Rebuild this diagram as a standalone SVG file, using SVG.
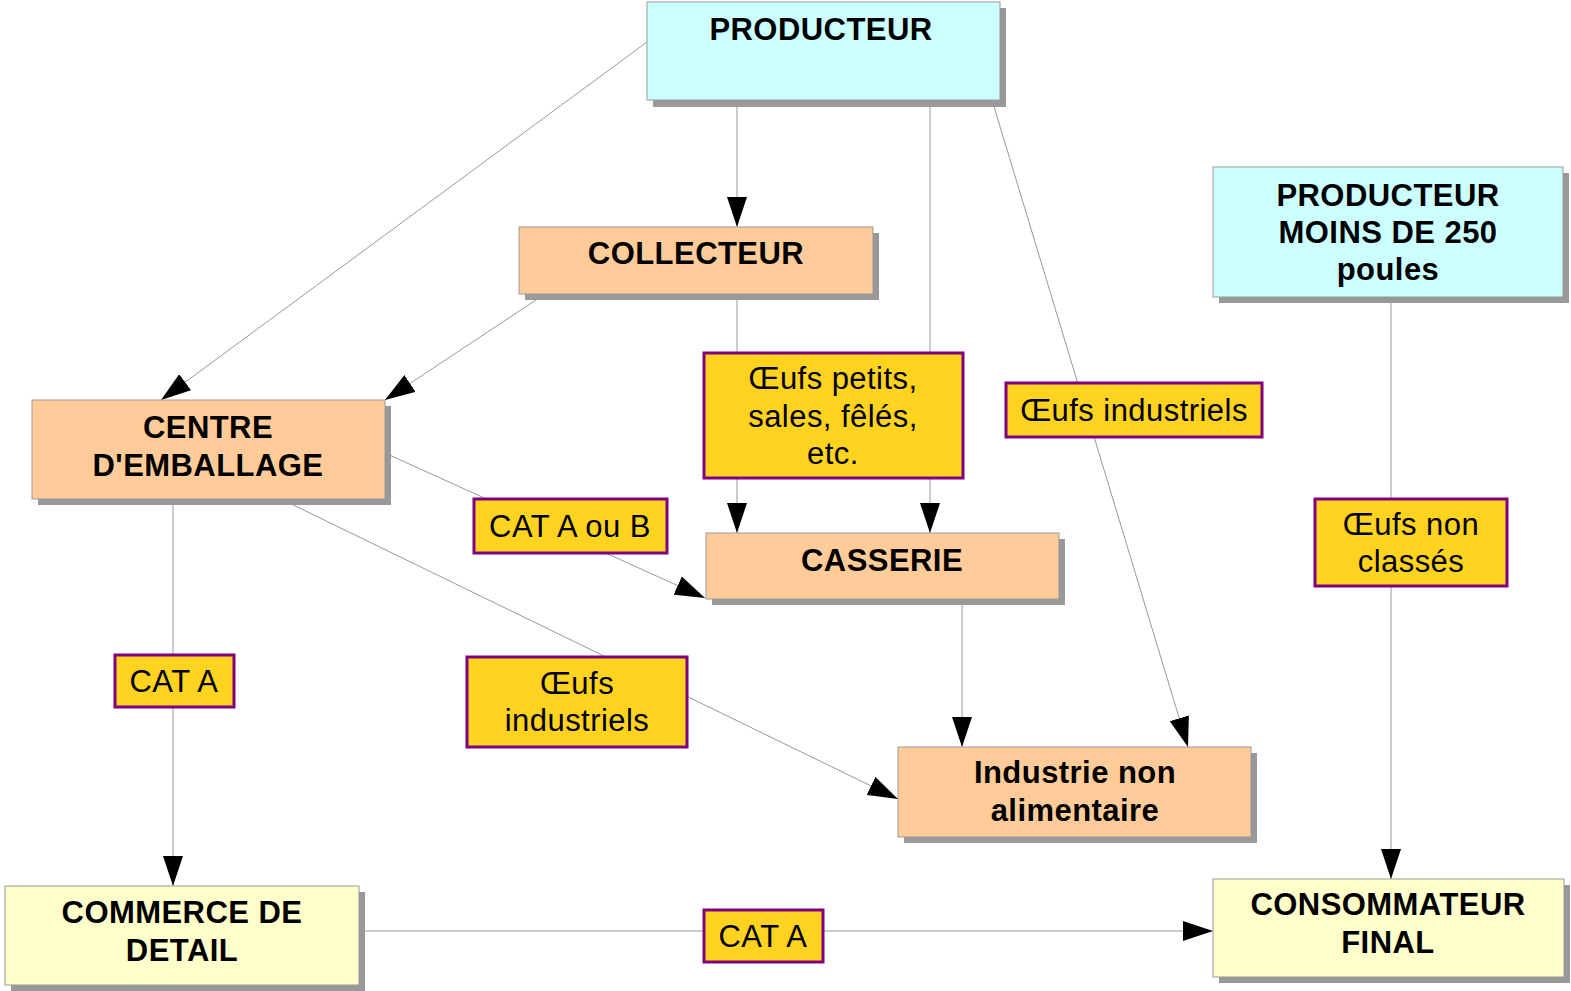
<svg xmlns="http://www.w3.org/2000/svg" width="1571" height="991" viewBox="0 0 1571 991">
<style>
.sh{fill:#999999}
.blue{fill:#CCFFFF;stroke:#999999;stroke-width:1}
.orange{fill:#FFCC99;stroke:#999999;stroke-width:1}
.cream{fill:#FFFFCC;stroke:#999999;stroke-width:1}
.lab{fill:#FFD320;stroke:#800080;stroke-width:3}
.tb{font-family:"Liberation Sans",Arial,sans-serif;font-weight:bold;font-size:31px;letter-spacing:0.45px;fill:#000;text-anchor:middle}
.tl{font-family:"Liberation Sans",Arial,sans-serif;font-size:31px;letter-spacing:0.45px;fill:#000;text-anchor:middle}
.ln{stroke:#999999;stroke-width:1;fill:none}
.ar{marker-end:url(#ah)}
</style>
<defs>
<marker id="ah" markerUnits="userSpaceOnUse" markerWidth="30" markerHeight="20" viewBox="0 0 30 20" refX="30" refY="10" orient="auto">
<path d="M0,0 L30,10 L0,20 Z" fill="#000"/>
</marker>
</defs>
<rect width="1571" height="991" fill="#fff"/>
<g id="connectors">
<line class="ln ar" x1="647" y1="42" x2="161" y2="400"/>
<line class="ln ar" x1="737" y1="100" x2="737" y2="227"/>
<line class="ln ar" x1="545" y1="294" x2="385" y2="400"/>
<line class="ln ar" x1="737" y1="294" x2="737" y2="533"/>
<line class="ln ar" x1="930" y1="100" x2="930" y2="533"/>
<line class="ln ar" x1="992" y1="100" x2="1188" y2="747"/>
<line class="ln ar" x1="385" y1="453" x2="705" y2="598"/>
<line class="ln ar" x1="281" y1="499" x2="898" y2="799"/>
<line class="ln ar" x1="962" y1="599" x2="962" y2="747"/>
<line class="ln ar" x1="173" y1="499" x2="173" y2="886"/>
<line class="ln ar" x1="359" y1="931" x2="1213" y2="931"/>
<line class="ln ar" x1="1391" y1="297" x2="1391" y2="879"/>
</g>
<g id="producteur">
<rect class="sh" x="653" y="8" width="353" height="99"/>
<rect class="blue" x="647" y="2" width="353" height="98"/>
<text class="tb" x="821" y="40">PRODUCTEUR</text>
</g>
<g id="collecteur">
<rect class="sh" x="525" y="233" width="354" height="67"/>
<rect class="orange" x="519" y="227" width="354" height="67"/>
<text class="tb" x="696" y="264">COLLECTEUR</text>
</g>
<g id="centre">
<rect class="sh" x="38" y="406" width="353" height="99"/>
<rect class="orange" x="32" y="400" width="353" height="99"/>
<text class="tb" x="208" y="438">CENTRE</text>
<text class="tb" x="208" y="476">D'EMBALLAGE</text>
</g>
<g id="producteur250">
<rect class="sh" x="1219" y="173" width="350" height="130"/>
<rect class="blue" x="1213" y="167" width="350" height="130"/>
<text class="tb" x="1388" y="206">PRODUCTEUR</text>
<text class="tb" x="1388" y="243">MOINS DE 250</text>
<text class="tb" x="1388" y="280">poules</text>
</g>
<g id="casserie">
<rect class="sh" x="712" y="539" width="353" height="66"/>
<rect class="orange" x="706" y="533" width="353" height="66"/>
<text class="tb" x="882" y="571">CASSERIE</text>
</g>
<g id="industrie">
<rect class="sh" x="904" y="753" width="353" height="90"/>
<rect class="orange" x="898" y="747" width="353" height="90"/>
<text class="tb" x="1075" y="783">Industrie non</text>
<text class="tb" x="1075" y="821">alimentaire</text>
</g>
<g id="commerce">
<rect class="sh" x="11" y="892" width="354" height="99"/>
<rect class="cream" x="5" y="886" width="354" height="99"/>
<text class="tb" x="182" y="923">COMMERCE DE</text>
<text class="tb" x="182" y="961">DETAIL</text>
</g>
<g id="consommateur">
<rect class="sh" x="1219" y="885" width="351" height="98"/>
<rect class="cream" x="1213" y="879" width="351" height="98"/>
<text class="tb" x="1388" y="915">CONSOMMATEUR</text>
<text class="tb" x="1388" y="953">FINAL</text>
</g>
<g id="label-oeufs-petits">
<rect class="lab" x="704" y="353" width="259" height="125"/>
<text class="tl" x="833" y="389">Œufs petits,</text>
<text class="tl" x="833" y="427">sales, fêlés,</text>
<text class="tl" x="833" y="464">etc.</text>
</g>
<g id="label-oeufs-industriels-1">
<rect class="lab" x="1006" y="383" width="256" height="54"/>
<text class="tl" x="1134" y="421">Œufs industriels</text>
</g>
<g id="label-cat-a-ou-b">
<rect class="lab" x="474" y="499" width="193" height="54"/>
<text class="tl" x="570" y="537">CAT A ou B</text>
</g>
<g id="label-cat-a-1">
<rect class="lab" x="115" y="655" width="119" height="52"/>
<text class="tl" x="174" y="692">CAT A</text>
</g>
<g id="label-oeufs-industriels-2">
<rect class="lab" x="467" y="657" width="220" height="90"/>
<text class="tl" x="577" y="694">Œufs</text>
<text class="tl" x="577" y="731">industriels</text>
</g>
<g id="label-oeufs-non-classes">
<rect class="lab" x="1315" y="499" width="192" height="87"/>
<text class="tl" x="1411" y="535">Œufs non</text>
<text class="tl" x="1411" y="572">classés</text>
</g>
<g id="label-cat-a-2">
<rect class="lab" x="704" y="910" width="119" height="52"/>
<text class="tl" x="763" y="947">CAT A</text>
</g>
</svg>
